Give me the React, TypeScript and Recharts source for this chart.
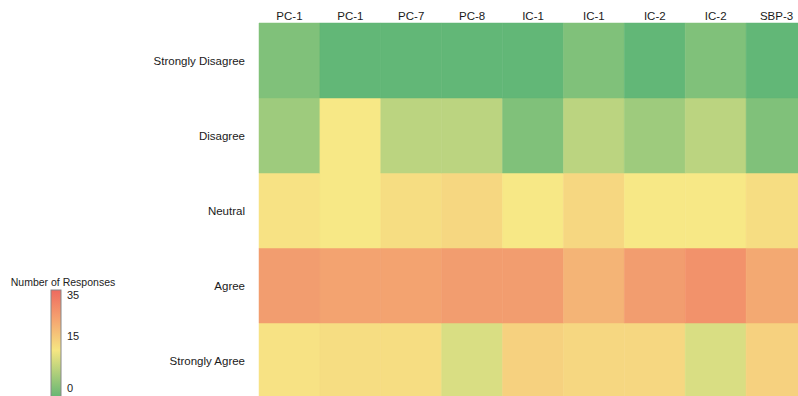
import { Bar, BarChart, Cell, XAxis, YAxis } from "recharts";

const questions = ["PC-1", "PC-1", "PC-7", "PC-8", "IC-1", "IC-1", "IC-2", "IC-2", "SBP-3"];
const levels = ["Strongly Disagree", "Disagree", "Neutral", "Agree", "Strongly Agree"];

const stronglyDisagree = [3, 0, 0, 0, 0, 3, 0, 3, 0];
const disagree = [6, 15, 9, 9, 3, 9, 6, 9, 3];
const neutral = [16, 15, 17, 18, 15, 18, 15, 15, 17];
const agree = [28, 27, 27, 28, 28, 24, 28, 30, 26];
const stronglyAgree = [16, 17, 17, 12, 19, 18, 18, 12, 19];

const legendTicks = [35, 15, 0];

// rows stacked bottom-up, so Strongly Agree goes first
const rows = [
  { key: "sa", values: stronglyAgree },
  { key: "a", values: agree },
  { key: "n", values: neutral },
  { key: "d", values: disagree },
  { key: "sd", values: stronglyDisagree },
];

const data = questions.map((q, i) => ({
  idx: i,
  question: q,
  sa: 1,
  a: 1,
  n: 1,
  d: 1,
  sd: 1,
}));

const stops: [number, string][] = [
  [0, "#62b777"],
  [15, "#f7e886"],
  [35, "#f07562"],
];

function hexToRgb(h: string) {
  const n = parseInt(h.slice(1), 16);
  return [(n >> 16) & 255, (n >> 8) & 255, n & 255];
}

function colorFor(v: number) {
  let lo = stops[0];
  let hi = stops[stops.length - 1];
  for (let i = 0; i < stops.length - 1; i++) {
    if (v >= stops[i][0] && v <= stops[i + 1][0]) {
      lo = stops[i];
      hi = stops[i + 1];
    }
  }
  const t = (v - lo[0]) / (hi[0] - lo[0] || 1);
  const a = hexToRgb(lo[1]);
  const b = hexToRgb(hi[1]);
  const c = a.map((x, k) => Math.round(x + (b[k] - x) * t));
  return `rgb(${c[0]},${c[1]},${c[2]})`;
}

const font = "'Liberation Sans', Arial, Helvetica, sans-serif";

function Legend() {
  return (
    <svg
      width={130}
      height={130}
      style={{ position: "absolute", left: 0, top: 266 }}
    >
      <defs>
        <linearGradient id="resp-grad" x1="0" y1="0" x2="0" y2="1">
          <stop offset="0%" stopColor="#ee6a5f" />
          <stop offset="25%" stopColor="#f5a06f" />
          <stop offset="55%" stopColor="#f5e682" />
          <stop offset="100%" stopColor="#5cb372" />
        </linearGradient>
      </defs>
      <text
        x={63}
        y={20}
        textAnchor="middle"
        fontSize={10.5}
        fontFamily={font}
        fill="#222"
      >
        Number of Responses
      </text>
      <rect
        x={51}
        y={24}
        width={10}
        height={110}
        fill="url(#resp-grad)"
        stroke="#888"
        strokeWidth={1}
      />
      {legendTicks.map((t, i) => (
        <text
          key={t}
          x={67}
          y={[29, 70, 122][i] + 4}
          fontSize={11}
          fontFamily={font}
          fill="#222"
        >
          {t}
        </text>
      ))}
    </svg>
  );
}

export default function App() {
  return (
    <div
      style={{
        position: "absolute",
        left: 0,
        top: 0,
        width: 798,
        height: 396,
        overflow: "hidden",
        background: "#fff",
      }}
    >
      <BarChart
        width={807}
        height={398}
        data={data}
        margin={{ top: 0, right: 0, bottom: 0, left: 0 }}
        barCategoryGap={0}
        barGap={0}
      >
        <XAxis
          dataKey="idx"
          orientation="top"
          height={23}
          axisLine={false}
          tickLine={false}
          tickSize={0}
          tickMargin={3}
          interval={0}
          tickFormatter={(i) => questions[i]}
          tick={{ fill: "#1a1a1a", fontSize: 11.5, fontFamily: font }}
        />
        <YAxis
          type="number"
          domain={[0, 5]}
          ticks={[0.5, 1.5, 2.5, 3.5, 4.5]}
          width={259}
          axisLine={false}
          tickLine={false}
          tickSize={0}
          tickMargin={14}
          interval={0}
          tickFormatter={(v) => levels[4 - Math.floor(v)]}
          tick={{ fill: "#1a1a1a", fontSize: 11.5, fontFamily: font }}
        />
        {rows.map((r) => (
          <Bar key={r.key} dataKey={r.key} stackId="heat" isAnimationActive={false}>
            {r.values.map((v, i) => (
              <Cell key={i} fill={colorFor(v)} stroke={colorFor(v)} strokeWidth={0.5} />
            ))}
          </Bar>
        ))}
      </BarChart>
      <Legend />
    </div>
  );
}
